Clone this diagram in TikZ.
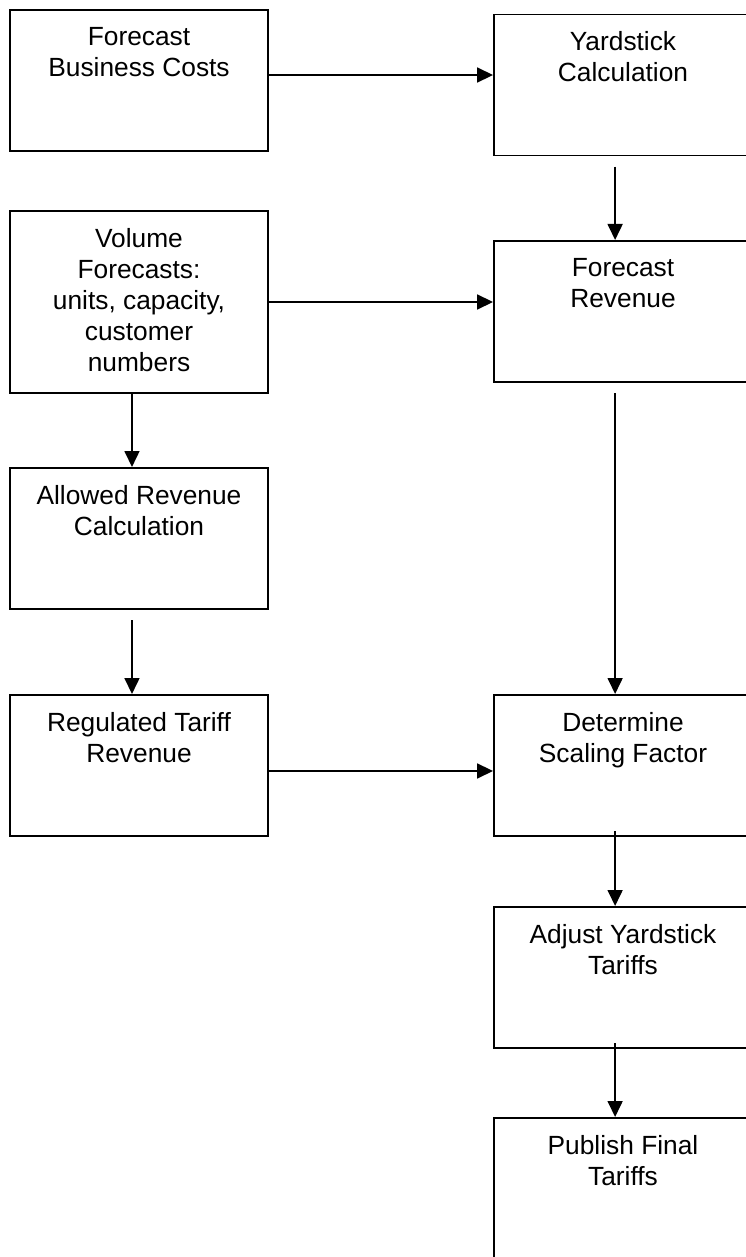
\documentclass[tikz,border=0pt]{standalone}
\usepackage{fontspec}
\setmainfont{Liberation Sans}
\usetikzlibrary{arrows.meta}

\begin{document}
\begin{tikzpicture}[x=0.456pt, y=-0.456pt,
    box/.style={draw, line width=0.9pt, minimum width=117.6pt,
        minimum height=64.3pt, inner sep=0pt},
    txt/.style={align=center, anchor=north, inner sep=0pt, yshift=-8.2pt,
        font=\fontsize{12pt}{14.1pt}\selectfont},
    arr/.style={line width=0.9pt, -{Triangle[length=7.3pt,width=6.8pt]}}]
    \useasboundingbox (0,0) rectangle (745,1257);
    % left column
    \node[box, label={[txt]north:{Forecast\\Business Costs}}] (fbc) at (139,80.5) {};
    \node[box, minimum height=83pt,
        label={[txt]north:{Volume\\Forecasts:\\units, capacity,\\customer\\numbers}}] (vol) at (139,302) {};
    \node[box, label={[txt]north:{Allowed Revenue\\Calculation}}] (allow) at (139,538.5) {};
    \node[box, label={[txt]north:{Regulated Tariff\\Revenue}}] (reg) at (139,765.5) {};
    % right column
    \node[box, label={[txt]north:{Yardstick\\Calculation}}] (yard) at (623,85) {};
    \node[box, label={[txt]north:{Forecast\\Revenue}}] (frev) at (623,311.5) {};
    \node[box, label={[txt]north:{Determine\\Scaling Factor}}] (scale) at (623,765.5) {};
    \node[box, label={[txt]north:{Adjust Yardstick\\Tariffs}}] (adj) at (623,977.5) {};
    \node[box, label={[txt]north:{Publish Final\\Tariffs}}] (pub) at (623,1188.5) {};
    % across
    \draw[arr] ([yshift=2.5pt]fbc.east) -- ([yshift=2.5pt]fbc.east -| yard.west);
    \draw[arr] (vol.east) -- (vol.east -| frev.west);
    \draw[arr] ([yshift=-2.5pt]reg.east) -- ([yshift=-2.5pt]reg.east -| scale.west);
    % down
    \draw[arr] ([xshift=-3.2pt]vol.south) -- ([xshift=-3.2pt]allow.north);
    \draw[arr, shorten <=4.6pt] ([xshift=-3.2pt]allow.south) -- ([xshift=-3.2pt]reg.north);
    \draw[arr, shorten <=4.6pt] ([xshift=-3.6pt]yard.south) -- ([xshift=-3.6pt]frev.north);
    \draw[arr, shorten <=4.6pt] ([xshift=-3.6pt]frev.south) -- ([xshift=-3.6pt]scale.north);
    \draw[arr, shorten <=-2.7pt] ([xshift=-3.6pt]scale.south) -- ([xshift=-3.6pt]adj.north);
    \draw[arr, shorten <=-2.7pt] ([xshift=-3.6pt]adj.south) -- ([xshift=-3.6pt]pub.north);
\end{tikzpicture}
\end{document}
